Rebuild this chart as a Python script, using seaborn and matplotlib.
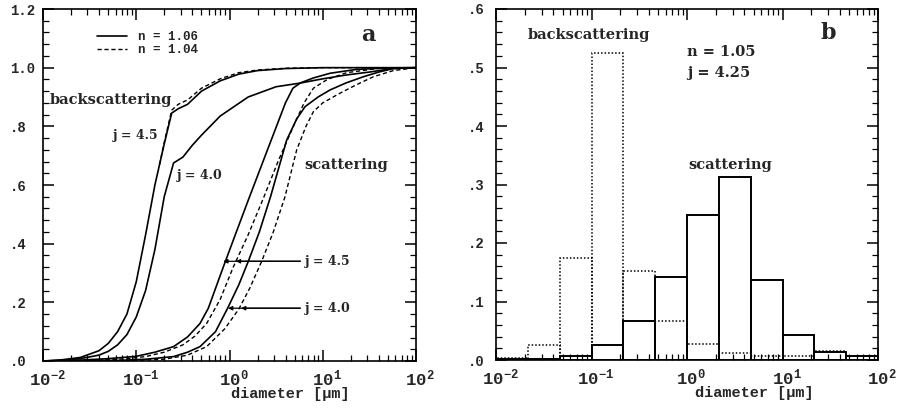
import numpy as np
import pandas as pd
import seaborn as sns
import matplotlib
matplotlib.use("Agg")
import matplotlib.pyplot as plt
from matplotlib.ticker import FixedLocator, FuncFormatter, LogLocator, NullFormatter, MultipleLocator
from matplotlib.lines import Line2D
import matplotlib.transforms as mtransforms

# ---------------- Panel a: cumulative curves (log10 diameter, fraction) ----------------
bs45_solid_logd = [-2.0, -1.8, -1.6, -1.4, -1.3, -1.2, -1.1, -1.0, -0.9, -0.8, -0.7, -0.62,
                   -0.55, -0.45, -0.3, -0.1, 0.1, 0.3, 0.6, 1.0, 1.5, 2.0]
bs45_solid_frac = [0.0, 0.004, 0.012, 0.035, 0.06, 0.10, 0.16, 0.27, 0.43, 0.60, 0.74, 0.845,
                   0.86, 0.875, 0.92, 0.955, 0.978, 0.99, 0.997, 1.0, 1.0, 1.0]

bs45_dash_logd = [-0.75, -0.7, -0.62, -0.55, -0.45, -0.3, -0.1, 0.1, 0.3, 0.6, 1.0, 1.5, 2.0]
bs45_dash_frac = [0.67, 0.745, 0.855, 0.875, 0.89, 0.93, 0.962, 0.983, 0.992, 0.998, 1.0, 1.0, 1.0]

bs40_solid_logd = [-2.0, -1.8, -1.6, -1.4, -1.3, -1.2, -1.1, -1.0, -0.9, -0.8, -0.7, -0.6, -0.5,
                   -0.4, -0.3, -0.1, 0.2, 0.5, 0.75, 1.0, 1.25, 1.5, 1.75, 2.0]
bs40_solid_frac = [0.0, 0.002, 0.008, 0.02, 0.033, 0.055, 0.09, 0.15, 0.24, 0.38, 0.56, 0.675, 0.695,
                   0.735, 0.77, 0.835, 0.90, 0.935, 0.947, 0.962, 0.975, 0.985, 0.997, 1.0]

sc45_solid_logd = [-2.0, -1.6, -1.3, -1.0, -0.8, -0.6, -0.45, -0.316, -0.227, -0.067, 0.05, 0.202,
                   0.434, 0.6, 0.68, 0.76, 0.9, 1.08, 1.36, 1.7, 2.0]
sc45_solid_frac = [0.0, 0.003, 0.008, 0.016, 0.03, 0.049, 0.082, 0.128, 0.18, 0.32, 0.42, 0.549,
                   0.742, 0.88, 0.93, 0.948, 0.965, 0.981, 0.994, 0.999, 1.0]

sc45_dash_logd = [-2.0, -1.4, -1.1, -0.9, -0.7, -0.5, -0.37, -0.245, -0.1, 0.04, 0.2, 0.37, 0.52,
                  0.684, 0.8, 0.9, 1.05, 1.257, 1.61, 2.0]
sc45_dash_frac = [0.0, 0.003, 0.008, 0.015, 0.03, 0.055, 0.085, 0.128, 0.21, 0.32, 0.43, 0.56, 0.68,
                  0.799, 0.88, 0.93, 0.96, 0.983, 0.998, 1.0]

sc40_solid_logd = [-2.0, -1.2, -0.9, -0.6, -0.45, -0.316, -0.15, -0.02, 0.1, 0.202, 0.32, 0.44,
                   0.613, 0.72, 0.81, 0.95, 1.078, 1.25, 1.435, 1.6, 1.757, 2.0]
sc40_solid_frac = [0.0, 0.002, 0.006, 0.015, 0.03, 0.049, 0.10, 0.18, 0.26, 0.34, 0.44, 0.56,
                   0.753, 0.825, 0.867, 0.90, 0.924, 0.948, 0.969, 0.985, 0.997, 1.0]

sc40_dash_logd = [-2.0, -1.0, -0.7, -0.45, -0.245, -0.05, 0.1, 0.22, 0.345, 0.47, 0.595, 0.72,
                  0.82, 0.9, 1.0, 1.185, 1.35, 1.542, 1.757, 2.0]
sc40_dash_frac = [0.0, 0.002, 0.006, 0.02, 0.049, 0.11, 0.177, 0.25, 0.34, 0.44, 0.56, 0.719,
                  0.80, 0.85, 0.88, 0.913, 0.94, 0.969, 0.99, 1.0]

# ---------------- Panel b: histograms (1/3-decade bins) ----------------
bin_edges_exp = [-2.0, -1.6667, -1.3333, -1.0, -0.6667, -0.3333, 0.0, 0.3333, 0.6667, 1.0,
                 1.3333, 1.6667, 2.0]
scattering_frac = [0.002, 0.002, 0.006, 0.025, 0.067, 0.142, 0.248, 0.312, 0.137, 0.042, 0.013, 0.007]
backscatter_frac = [0.003, 0.025, 0.175, 0.525, 0.152, 0.067, 0.027, 0.012, 0.007, 0.006, 0.016, 0.006]

x_tick_exp = [-2, -1, 0, 1, 2]
ya_ticks = [0.0, 0.2, 0.4, 0.6, 0.8, 1.0, 1.2]
ya_labels = [".0", ".2", ".4", ".6", ".8", "1.0", "1.2"]
yb_ticks = [0.0, 0.1, 0.2, 0.3, 0.4, 0.5, 0.6]
yb_labels = [".0", ".1", ".2", ".3", ".4", ".5", ".6"]

# ---------------- style ----------------
sns.set_style("ticks")
plt.rcParams["font.family"] = ["Liberation Mono", "DejaVu Sans"]
plt.rcParams["font.weight"] = "bold"
plt.rcParams["mathtext.fontset"] = "custom"
plt.rcParams["mathtext.rm"] = "Liberation Mono:bold"
plt.rcParams["mathtext.it"] = "Liberation Mono:bold"
plt.rcParams["mathtext.bf"] = "Liberation Mono:bold"
plt.rcParams["axes.edgecolor"] = "black"
plt.rcParams["axes.linewidth"] = 1.2

fig = plt.figure(figsize=(9.01, 4.17), dpi=100)
axa = fig.add_axes([43 / 901, 56 / 417, 373 / 901, 352 / 417])
axb = fig.add_axes([496 / 901, 57 / 417, 382 / 901, 351 / 417])

SER = dict(family=["DejaVu Serif"], fontweight="bold")

# ---- panel a curves
axa.set_xscale("log")
solid_kw = dict(color="black", linewidth=1.2, estimator=None, sort=False, ax=axa)
dash_kw = dict(color="black", linewidth=1.0, linestyle=(0, (3, 2)), estimator=None, sort=False, ax=axa)
for lx, fy, kw in [
    (bs45_solid_logd, bs45_solid_frac, solid_kw),
    (bs40_solid_logd, bs40_solid_frac, solid_kw),
    (sc45_solid_logd, sc45_solid_frac, solid_kw),
    (sc40_solid_logd, sc40_solid_frac, solid_kw),
    (bs45_dash_logd, bs45_dash_frac, dash_kw),
    (sc45_dash_logd, sc45_dash_frac, dash_kw),
    (sc40_dash_logd, sc40_dash_frac, dash_kw),
]:
    sns.lineplot(x=np.power(10.0, lx), y=fy, **kw)

axa.set_xlim(1e-2, 1e2)
axa.set_ylim(0, 1.2)

# legend
handles = [Line2D([], [], color="black", lw=1.2),
           Line2D([], [], color="black", lw=1.0, linestyle=(0, (3, 2)))]
leg = axa.legend(handles, ["n = 1.06", "n = 1.04"], loc="upper left",
                 bbox_to_anchor=(0.145, 0.937), frameon=False, borderpad=0, borderaxespad=0,
                 handlelength=2.4, handletextpad=0.9, labelspacing=0.1,
                 prop=dict(family="Liberation Mono", weight="bold", size=9))

axa.text(0.019, 0.741, "backscattering", transform=axa.transAxes, fontsize=10.5, va="center", ha="left", **SER)
axa.text(0.188, 0.642, "j = 4.5", transform=axa.transAxes, fontsize=9, va="center", ha="left", **SER)
axa.text(0.359, 0.528, "j = 4.0", transform=axa.transAxes, fontsize=9, va="center", ha="left", **SER)
axa.text(0.702, 0.557, "scattering", transform=axa.transAxes, fontsize=10.5, va="center", ha="left", **SER)
axa.text(0.871, 0.926, "a", transform=axa.transAxes, fontsize=16, va="center", ha="center",
         family=["DejaVu Serif"])

# arrows for scattering labels
for ytxt, lab, tips in [(0.34, "j = 4.5", (0.857, 1.17)), (0.18, "j = 4.0", (0.964, 1.33))]:
    axa.text(0.702, ytxt / 1.2, lab, transform=axa.transAxes, fontsize=9, va="center", ha="left", **SER)
    for tip in tips:
        axa.annotate("", xy=(tip, ytxt), xytext=(5.75, ytxt),
                     arrowprops=dict(arrowstyle="-|>", color="black", lw=0.9,
                                     mutation_scale=6, shrinkA=0, shrinkB=0))

# ---- panel b histograms
centers = [10 ** ((bin_edges_exp[i] + bin_edges_exp[i + 1]) / 2) for i in range(len(bin_edges_exp) - 1)]
df = pd.DataFrame({"d": centers, "back": backscatter_frac, "scat": scattering_frac})
sns.histplot(data=df, x="d", weights="back", bins=bin_edges_exp, log_scale=True, element="bars",
             fill=False, color="black", linewidth=1.1, linestyle=(0, (1, 1.3)), ax=axb)
sns.histplot(data=df, x="d", weights="scat", bins=bin_edges_exp, log_scale=True, element="bars",
             fill=False, color="black", linewidth=1.4, ax=axb)
axb.set_xlim(1e-2, 1e2)
axb.set_ylim(0, 0.6)
axb.set_ylabel("")

axb.text(0.084, 0.926, "backscattering", transform=axb.transAxes, fontsize=10.5, va="center", ha="left", **SER)
axb.text(0.50, 0.877, "n = 1.05", transform=axb.transAxes, fontsize=10.5, va="center", ha="left", **SER)
axb.text(0.50, 0.818, "j = 4.25", transform=axb.transAxes, fontsize=10.5, va="center", ha="left", **SER)
axb.text(0.503, 0.556, "scattering", transform=axb.transAxes, fontsize=10.5, va="center", ha="left", **SER)
axb.text(0.869, 0.932, "b", transform=axb.transAxes, fontsize=16, va="center", ha="center",
         family=["DejaVu Serif"])

# ---- axes formatting
for ax, yt, yl, ymin_step, ypad, xlc in [
    (axa, ya_ticks, ya_labels, 0.04, 24, 0.662),
    (axb, yb_ticks, yb_labels, 0.02, 20, 0.675),
]:
    ax.xaxis.set_major_locator(FixedLocator([10.0 ** e for e in x_tick_exp]))
    ax.xaxis.set_major_formatter(FuncFormatter(lambda v, p: r"$10^{%d}$" % int(round(np.log10(v)))))
    ax.xaxis.set_minor_locator(LogLocator(base=10, subs=np.arange(2, 10), numticks=20))
    ax.xaxis.set_minor_formatter(NullFormatter())
    ax.yaxis.set_major_locator(FixedLocator(yt))
    ax.set_yticklabels(yl)
    ax.yaxis.set_minor_locator(MultipleLocator(ymin_step))
    ax.tick_params(which="both", direction="in", top=True, right=True, color="black")
    ax.tick_params(which="major", length=8, width=1.1)
    ax.tick_params(which="minor", length=4, width=0.9)
    ax.tick_params(axis="x", which="major", pad=5, labelsize=12.5)
    ax.tick_params(axis="y", which="major", pad=ypad, labelsize=10)
    for lab in ax.get_yticklabels():
        lab.set_horizontalalignment("left")
        lab.set_fontweight("bold")
    for lab in ax.get_xticklabels():
        lab.set_transform(lab.get_transform() + mtransforms.ScaledTranslation(0.04, 0, fig.dpi_scale_trans))
    ax.set_xlabel("diameter [μm]", fontsize=11, fontweight="bold", family=["Liberation Mono"])
    ax.xaxis.set_label_coords(xlc, -0.075)
    ax.xaxis.label.set_verticalalignment("top")
    for s in ax.spines.values():
        s.set_visible(True)
        s.set_color("black")
        s.set_linewidth(1.2)

fig.savefig("out.png", dpi=100, facecolor="white")
